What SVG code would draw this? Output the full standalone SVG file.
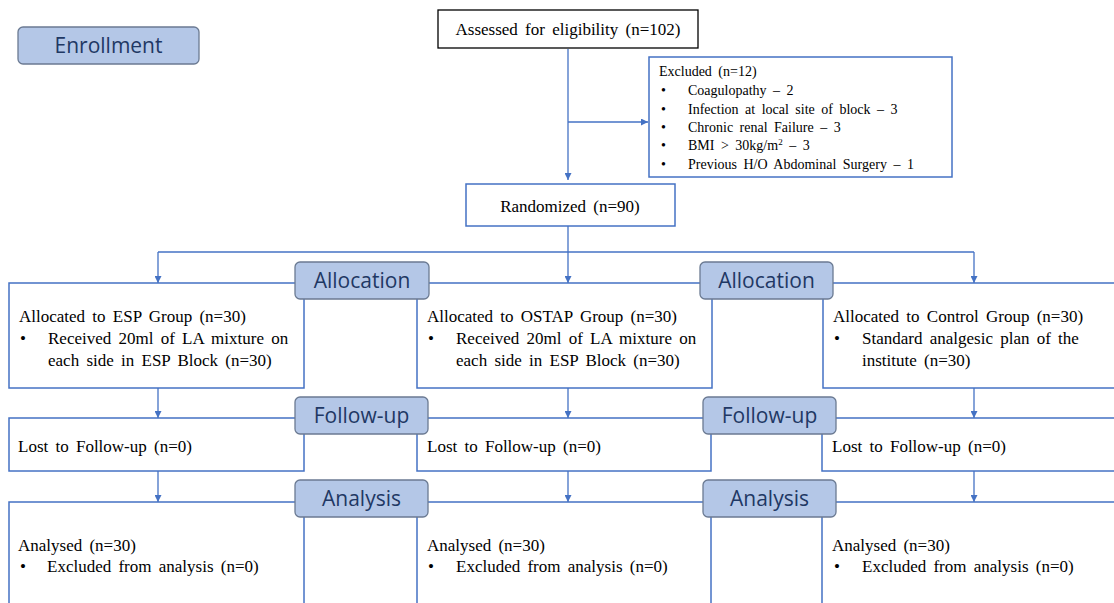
<svg xmlns="http://www.w3.org/2000/svg" width="1114" height="603" viewBox="0 0 1114 603">
<style>
.box{fill:#fff;stroke:#4472c4;stroke-width:1.5}
.blk{fill:#fff;stroke:#000;stroke-width:1.3}
.lbl{fill:#b4c7e7;stroke:#6b7a92;stroke-width:1.3}
.lt{font-family:"Open Sans",sans-serif;font-size:21px;fill:#1f3864;text-anchor:middle}
.t{font-family:"Liberation Serif",serif;font-size:17px;word-spacing:3px;fill:#000}
.ts{font-family:"Liberation Serif",serif;font-size:14px;word-spacing:3px;fill:#000}
.c{fill:none;stroke:#4472c4;stroke-width:1.3}
</style>
<defs>
<marker id="ah" viewBox="0 0 10 10" refX="10" refY="5" markerWidth="7" markerHeight="7" markerUnits="userSpaceOnUse" orient="auto">
<path d="M0,0 L10,5 L0,10 z" fill="#4472c4"/>
</marker>
</defs>

<g id="connectors">
<path class="c" d="M568,49 V180" marker-end="url(#ah)"/>
<path class="c" d="M568,122 H648" marker-end="url(#ah)"/>
<path class="c" d="M568,226 V252"/>
<path class="c" d="M158,252 H974"/>
<path class="c" d="M158,252 V283" marker-end="url(#ah)"/>
<path class="c" d="M568,252 V283" marker-end="url(#ah)"/>
<path class="c" d="M974,252 V283" marker-end="url(#ah)"/>
<path class="c" d="M158,388 V418" marker-end="url(#ah)"/>
<path class="c" d="M568,388 V418" marker-end="url(#ah)"/>
<path class="c" d="M974,388 V418" marker-end="url(#ah)"/>
<path class="c" d="M158,471 V502" marker-end="url(#ah)"/>
<path class="c" d="M568,471 V502" marker-end="url(#ah)"/>
<path class="c" d="M974,471 V502" marker-end="url(#ah)"/>
</g>

<g id="enrollment">
<rect class="lbl" x="18" y="27" width="181" height="37" rx="5"/>
<text class="lt" x="108.5" y="53">Enrollment</text>
</g>

<g id="assessed">
<rect class="blk" x="438" y="10" width="260" height="38"/>
<text class="t" x="568" y="35" text-anchor="middle" font-size="17.5">Assessed for eligibility (n=102)</text>
</g>

<g id="excluded">
<rect class="box" x="649" y="57" width="303" height="120"/>
<text class="ts" x="659" y="76">Excluded (n=12)</text>
<text class="ts" x="661" y="95">•</text><text class="ts" x="688" y="95">Coagulopathy – 2</text>
<text class="ts" x="661" y="114">•</text><text class="ts" x="688" y="114">Infection at local site of block – 3</text>
<text class="ts" x="661" y="132">•</text><text class="ts" x="688" y="132">Chronic renal Failure – 3</text>
<text class="ts" x="661" y="150">•</text><text class="ts" x="688" y="150">BMI &gt; 30kg/m<tspan font-size="9" dy="-5">2</tspan><tspan dy="5"> – 3</tspan></text>
<text class="ts" x="661" y="169">•</text><text class="ts" x="688" y="169">Previous H/O Abdominal Surgery – 1</text>
</g>

<g id="randomized">
<rect class="box" x="466" y="184" width="209" height="42"/>
<text class="t" x="570" y="212" text-anchor="middle">Randomized (n=90)</text>
</g>

<g id="esp-group">
<rect class="box" x="9" y="283" width="295" height="105"/>
<text class="t" x="19" y="322">Allocated to ESP Group (n=30)</text>
<text class="t" x="20" y="344">•</text>
<text class="t" x="48" y="344">Received 20ml of LA mixture on</text>
<text class="t" x="48" y="366">each side in ESP Block (n=30)</text>
</g>

<g id="ostap-group">
<rect class="box" x="417" y="283" width="295" height="105"/>
<text class="t" x="427" y="322">Allocated to OSTAP Group (n=30)</text>
<text class="t" x="428" y="344">•</text>
<text class="t" x="456" y="344">Received 20ml of LA mixture on</text>
<text class="t" x="456" y="366">each side in ESP Block (n=30)</text>
</g>

<g id="control-group">
<rect class="box" x="823" y="283" width="300" height="105"/>
<text class="t" x="833" y="322">Allocated to Control Group (n=30)</text>
<text class="t" x="834" y="344">•</text>
<text class="t" x="862" y="344">Standard analgesic plan of the</text>
<text class="t" x="862" y="366">institute (n=30)</text>
</g>

<g id="esp-followup">
<rect class="box" x="9" y="418" width="295" height="53"/>
<text class="t" x="18" y="452">Lost to Follow-up (n=0)</text>
</g>
<g id="ostap-followup">
<rect class="box" x="417" y="418" width="294" height="53"/>
<text class="t" x="427" y="452">Lost to Follow-up (n=0)</text>
</g>
<g id="control-followup">
<rect class="box" x="822" y="418" width="300" height="53"/>
<text class="t" x="832" y="452">Lost to Follow-up (n=0)</text>
</g>

<g id="esp-analysis">
<rect class="box" x="9" y="502" width="295" height="110"/>
<text class="t" x="18" y="551">Analysed (n=30)</text>
<text class="t" x="20" y="572">•</text>
<text class="t" x="47" y="572">Excluded from analysis (n=0)</text>
</g>
<g id="ostap-analysis">
<rect class="box" x="417" y="502" width="294" height="110"/>
<text class="t" x="427" y="551">Analysed (n=30)</text>
<text class="t" x="428" y="572">•</text>
<text class="t" x="456" y="572">Excluded from analysis (n=0)</text>
</g>
<g id="control-analysis">
<rect class="box" x="822" y="502" width="300" height="110"/>
<text class="t" x="832" y="551">Analysed (n=30)</text>
<text class="t" x="834" y="572">•</text>
<text class="t" x="862" y="572">Excluded from analysis (n=0)</text>
</g>

<g id="allocation-left">
<rect class="lbl" x="295" y="262" width="134" height="37" rx="5"/>
<text class="lt" x="362" y="288">Allocation</text>
</g>
<g id="allocation-right">
<rect class="lbl" x="700" y="262" width="133" height="37" rx="5"/>
<text class="lt" x="766.5" y="288">Allocation</text>
</g>
<g id="followup-left">
<rect class="lbl" x="295" y="397" width="133" height="37" rx="5"/>
<text class="lt" x="361.5" y="423">Follow-up</text>
</g>
<g id="followup-right">
<rect class="lbl" x="703" y="397" width="133" height="37" rx="5"/>
<text class="lt" x="769.5" y="423">Follow-up</text>
</g>
<g id="analysis-left">
<rect class="lbl" x="295" y="480" width="133" height="37" rx="5"/>
<text class="lt" x="361.5" y="506">Analysis</text>
</g>
<g id="analysis-right">
<rect class="lbl" x="703" y="480" width="133" height="37" rx="5"/>
<text class="lt" x="769.5" y="506">Analysis</text>
</g>
</svg>
